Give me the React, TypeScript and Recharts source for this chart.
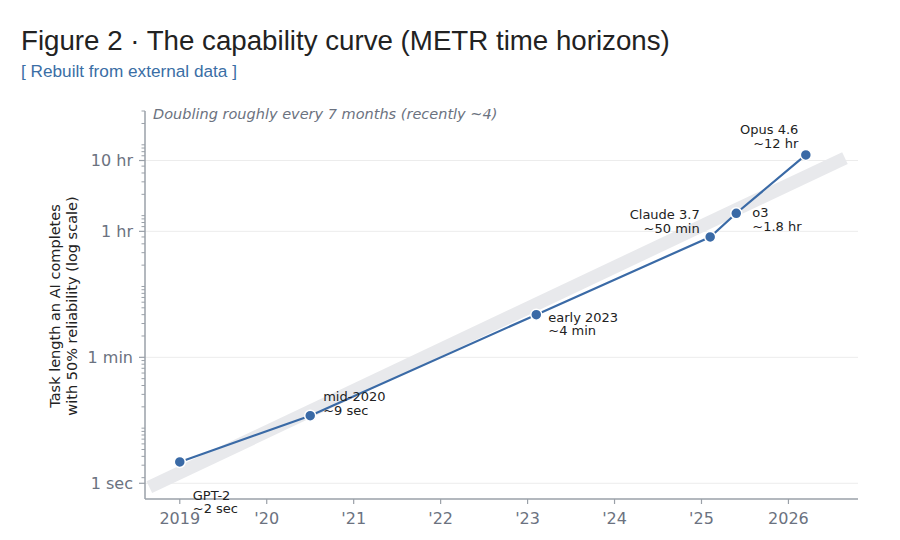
import React from 'react';
import { LineChart, Line, XAxis, YAxis, CartesianGrid } from 'recharts';

// ---- data ----
const years = [2019.0, 2020.5, 2023.1, 2025.1, 2025.4, 2026.2];
const horizonMinutes = [2 / 60, 9 / 60, 4, 50, 108, 720];
const modelNames = ['GPT-2', 'mid-2020', 'early 2023', 'Claude 3.7', 'o3', 'Opus 4.6'];
const horizonLabels = ['~2 sec', '~9 sec', '~4 min', '~50 min', '~1.8 hr', '~12 hr'];

const trendYears = [2018.65, 2026.65];
const trendMinutes = [0.0147, 650];

const xTicks = [2019, 2020, 2021, 2022, 2023, 2024, 2025, 2026];
const xTickLabels = ['2019', "'20", "'21", "'22", "'23", "'24", "'25", '2026'];
const yMajorTicks = [1 / 60, 1, 60, 600];
const yMajorLabels = ['1 sec', '1 min', '1 hr', '10 hr'];
const yMinorTicks = [
  0.02, 0.03, 0.04, 0.05, 0.06, 0.07, 0.08, 0.09,
  0.1, 0.2, 0.3, 0.4, 0.5, 0.6, 0.7, 0.8, 0.9,
  2, 3, 4, 5, 6, 7, 8, 9,
  10, 20, 30, 40, 50, 70, 80, 90,
  100, 200, 300, 400, 500, 700, 800, 900,
  1000, 2000, 3000,
];

// ---- style/placement config ----
const BLUE = '#3a6aa6';
const AXIS = '#9aa0a8';
const TICK_TEXT = '#6b7280';
const FONT = '"DejaVu Sans", sans-serif';
const TITLE_FONT = '"Liberation Sans", Arial, Helvetica, sans-serif';
const labelPlacement = [
  { anchor: 'start', dx: 13, dy: 33 },
  { anchor: 'start', dx: 13, dy: -19 },
  { anchor: 'start', dx: 12, dy: 2.5 },
  { anchor: 'end', dx: -10.5, dy: -22.5 },
  { anchor: 'start', dx: 16, dy: -0.6 },
  { anchor: 'end', dx: -7.5, dy: -25 },
];
const LINE_GAP = 13.5;

const points = years.map((x, i) => ({ x, y: horizonMinutes[i], i }));
const trend = trendYears.map((x, i) => ({ x, y: trendMinutes[i] }));
const yAllTicks = [...yMajorTicks, ...yMinorTicks].sort((a, b) => a - b);

const YTick = (props: any) => {
  const { x, y, payload } = props;
  const idx = yMajorTicks.findIndex((v) => Math.abs(v - payload.value) < 1e-9);
  if (idx >= 0) {
    return (
      <g>
        <line x1={x - 6} x2={x} y1={y} y2={y} stroke={AXIS} strokeWidth={1.2} />
        <text x={x - 12} y={y} dy="0.35em" textAnchor="end" fill={TICK_TEXT} fontSize={16} fontFamily={FONT}>
          {yMajorLabels[idx]}
        </text>
      </g>
    );
  }
  return <line x1={x - 3.5} x2={x} y1={y} y2={y} stroke={AXIS} strokeWidth={1} />;
};

const XTick = (props: any) => {
  const { x, y, payload } = props;
  const idx = xTicks.indexOf(payload.value);
  return (
    <g>
      <line x1={x} x2={x} y1={y} y2={y + 5} stroke={AXIS} strokeWidth={1.2} />
      <text x={x} y={y + 19} dy="0.35em" textAnchor="middle" fill={TICK_TEXT} fontSize={16} fontFamily={FONT}>
        {xTickLabels[idx]}
      </text>
    </g>
  );
};

const Dot = (props: any) => {
  const { cx, cy, index } = props;
  const p = labelPlacement[index];
  return (
    <g key={`dot-${index}`}>
      <circle cx={cx} cy={cy} r={5.5} fill={BLUE} stroke="#ffffff" strokeWidth={1.5} />
      <text fontSize={13} fill="#222222" fontFamily={FONT} textAnchor={p.anchor}>
        <tspan x={cx + p.dx} y={cy + p.dy} dy="0.35em">{modelNames[index]}</tspan>
        <tspan x={cx + p.dx} y={cy + p.dy + LINE_GAP} dy="0.35em">{horizonLabels[index]}</tspan>
      </text>
    </g>
  );
};

const YLabel = () => (
  <text transform="translate(63.5,306) rotate(-90)" textAnchor="middle" fill="#222222" fontSize={14.5} fontFamily={FONT}>
    <tspan x={0} y={-8.5} dy="0.35em">Task length an AI completes</tspan>
    <tspan x={0} y={8.5} dy="0.35em">with 50% reliability (log scale)</tspan>
  </text>
);

export default function App() {
  return (
    <div style={{ position: 'absolute', left: 0, top: 0, width: 900, height: 540, background: '#ffffff', overflow: 'hidden' }}>
      <div style={{ position: 'absolute', left: 21, top: 27.1, fontSize: 27.7, lineHeight: '27.7px', fontFamily: TITLE_FONT, color: '#222222', whiteSpace: 'nowrap' }}>
        Figure 2 · The capability curve (METR time horizons)
      </div>
      <div style={{ position: 'absolute', left: 21, top: 62.7, fontSize: 17.2, lineHeight: '17.2px', fontFamily: TITLE_FONT, color: '#3a6ea5', whiteSpace: 'nowrap' }}>
        [ Rebuilt from external data ]
      </div>
      <LineChart width={900} height={540} margin={{ top: 111, right: 42, bottom: 11, left: 65 }}>
        <CartesianGrid vertical={false} horizontalValues={yMajorTicks} stroke="#ececec" strokeWidth={1} />
        <XAxis
          type="number"
          dataKey="x"
          domain={[2018.6, 2026.8]}
          ticks={xTicks}
          interval={0}
          height={30}
          axisLine={{ stroke: AXIS, strokeWidth: 1.5 }}
          tickLine={false}
          tickSize={0}
          tickMargin={0}
          tick={<XTick />}
        />
        <YAxis
          type="number"
          dataKey="y"
          scale="log"
          domain={[0.01, 3000]}
          ticks={yAllTicks}
          interval={0}
          width={80}
          axisLine={{ stroke: AXIS, strokeWidth: 1.5 }}
          tickLine={false}
          tickSize={0}
          tickMargin={0}
          tick={<YTick />}
          label={<YLabel />}
        />
        <Line data={trend} dataKey="y" stroke="#e8e9ec" strokeWidth={13} strokeLinecap="butt" dot={false} activeDot={false} isAnimationActive={false} />
        <Line data={points} dataKey="y" stroke={BLUE} strokeWidth={2.2} dot={<Dot />} activeDot={false} isAnimationActive={false} />
      </LineChart>
      <div style={{ position: 'absolute', left: 153, top: 106, fontSize: 14.5, lineHeight: '16px', fontFamily: FONT, fontStyle: 'italic', color: TICK_TEXT, whiteSpace: 'nowrap' }}>
        Doubling roughly every 7 months (recently ~4)
      </div>
    </div>
  );
}
